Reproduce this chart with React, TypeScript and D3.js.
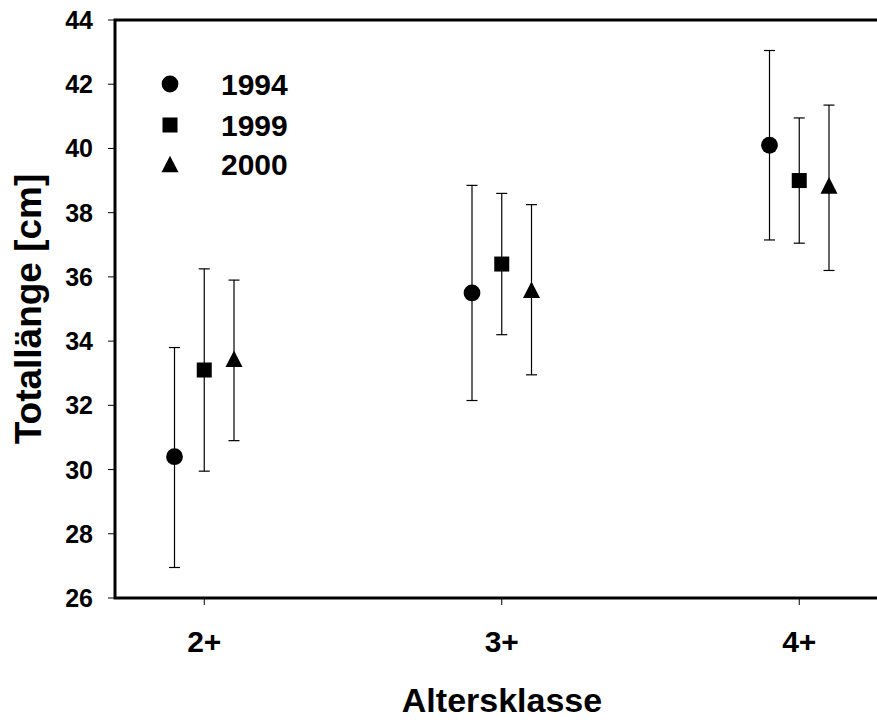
import React, { useEffect, useRef } from 'react';
import * as d3 from 'd3';

// Age classes on the x axis
const categories = ['2+', '3+', '4+'];
const years = ['1994', '1999', '2000'];

// Mean total length per age class and the error bar ends
const means1994 = [30.4, 35.5, 40.1];
const upper1994 = [33.8, 38.85, 43.05];
const lower1994 = [26.95, 32.15, 37.15];

const means1999 = [33.1, 36.4, 39.0];
const upper1999 = [36.25, 38.6, 40.95];
const lower1999 = [29.95, 34.2, 37.05];

const means2000 = [33.45, 35.6, 38.85];
const upper2000 = [35.9, 38.25, 41.35];
const lower2000 = [30.9, 32.95, 36.2];

const yTicks = [26, 28, 30, 32, 34, 36, 38, 40, 42, 44];

const FONT = '"Liberation Sans", Arial, sans-serif';

const App = () => {
  const ref = useRef<HTMLDivElement>(null);

  useEffect(() => {
    document.body.style.margin = '0';
    const width = 877;
    const height = 722;

    const root = d3.select(ref.current);
    root.selectAll('*').remove();

    const svg = root
      .append('svg')
      .attr('width', width)
      .attr('height', height)
      .style('display', 'block')
      .style('background', '#fff');

    const x = d3.scaleLinear().domain([1.7, 4.3]).range([115, 888.5]);
    const y = d3.scaleLinear().domain([26, 44]).range([598, 20]);

    const series = [
      { name: years[0], shape: 'circle', offset: -0.1, means: means1994, upper: upper1994, lower: lower1994 },
      { name: years[1], shape: 'square', offset: 0, means: means1999, upper: upper1999, lower: lower1999 },
      { name: years[2], shape: 'triangle', offset: 0.1, means: means2000, upper: upper2000, lower: lower2000 }
    ];

    const drawMarker = (g: any, shape: string, cx: number, cy: number) => {
      if (shape === 'circle') {
        g.append('circle').attr('cx', cx).attr('cy', cy).attr('r', 8.4).attr('fill', '#000');
      } else if (shape === 'square') {
        g.append('rect').attr('x', cx - 7.5).attr('y', cy - 7.5).attr('width', 15).attr('height', 15).attr('fill', '#000');
      } else {
        g.append('path')
          .attr('d', `M${cx},${cy - 8.3}L${cx + 8.5},${cy + 8.3}L${cx - 8.5},${cy + 8.3}Z`)
          .attr('fill', '#000');
      }
    };

    // Frame (top border runs off the right edge)
    svg.append('rect')
      .attr('x', x(1.7))
      .attr('y', y(44))
      .attr('width', x(4.3) - x(1.7))
      .attr('height', y(26) - y(44))
      .attr('fill', 'none')
      .attr('stroke', '#000')
      .attr('stroke-width', 3);

    // Y axis ticks and labels
    const yAxis = svg.append('g');
    yTicks.forEach(t => {
      yAxis.append('line')
        .attr('x1', x(1.7) - 7).attr('x2', x(1.7))
        .attr('y1', y(t)).attr('y2', y(t))
        .attr('stroke', '#000').attr('stroke-width', 1);
      yAxis.append('text')
        .attr('x', 93)
        .attr('y', y(t))
        .attr('dy', '0.36em')
        .attr('text-anchor', 'end')
        .style('font-family', FONT)
        .style('font-weight', 'bold')
        .style('font-size', '25px')
        .text(t);
    });

    // X axis ticks and labels
    const xAxis = svg.append('g');
    categories.forEach((c, i) => {
      xAxis.append('line')
        .attr('x1', x(i + 2)).attr('x2', x(i + 2))
        .attr('y1', y(26)).attr('y2', y(26) + 7)
        .attr('stroke', '#000').attr('stroke-width', 1);
      xAxis.append('text')
        .attr('x', x(i + 2))
        .attr('y', 651.5)
        .attr('text-anchor', 'middle')
        .style('font-family', FONT)
        .style('font-weight', 'bold')
        .style('font-size', '30px')
        .text(c);
    });

    // Error bars and markers
    series.forEach(s => {
      const g = svg.append('g');
      categories.forEach((c, i) => {
        const cx = x(i + 2 + s.offset);
        g.append('line')
          .attr('x1', cx).attr('x2', cx)
          .attr('y1', y(s.upper[i])).attr('y2', y(s.lower[i]))
          .attr('stroke', '#000').attr('stroke-width', 1.2);
        [s.upper[i], s.lower[i]].forEach(v => {
          g.append('line')
            .attr('x1', cx - 5.5).attr('x2', cx + 5.5)
            .attr('y1', y(v)).attr('y2', y(v))
            .attr('stroke', '#000').attr('stroke-width', 1.2);
        });
        drawMarker(g, s.shape, cx, y(s.means[i]));
      });
    });

    // Legend
    const legendY = [84, 125, 164];
    const legend = svg.append('g');
    series.forEach((s, i) => {
      drawMarker(legend, s.shape, 170, legendY[i]);
      legend.append('text')
        .attr('x', 221)
        .attr('y', legendY[i])
        .attr('dy', '0.36em')
        .style('font-family', FONT)
        .style('font-weight', 'bold')
        .style('font-size', '30px')
        .text(s.name);
    });

    // Axis titles
    svg.append('text')
      .attr('x', 502)
      .attr('y', 711.5)
      .attr('text-anchor', 'middle')
      .style('font-family', FONT)
      .style('font-weight', 'bold')
      .style('font-size', '34px')
      .text('Altersklasse');

    svg.append('text')
      .attr('transform', 'translate(41,309) rotate(-90)')
      .attr('text-anchor', 'middle')
      .style('font-family', FONT)
      .style('font-weight', 'bold')
      .style('font-size', '37px')
      .text('Totallänge [cm]');

    return () => {
      root.selectAll('*').remove();
    };
  }, []);

  return <div ref={ref}></div>;
};

export default App;
